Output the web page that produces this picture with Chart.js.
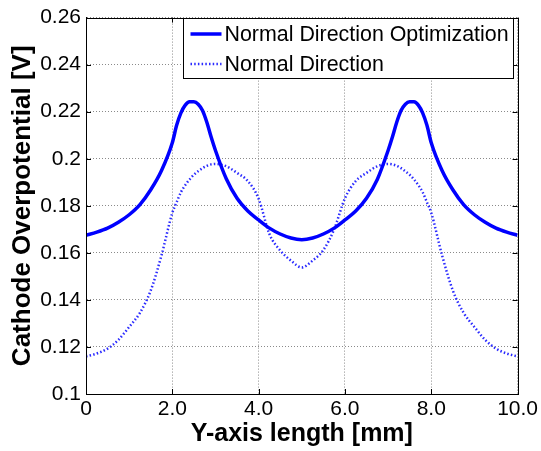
<!DOCTYPE html>
<html>
<head>
<meta charset="utf-8">
<script src="https://cdn.jsdelivr.net/npm/chart.js@4/dist/chart.umd.min.js"></script>
<style>
html,body{margin:0;padding:0;background:#fff;}
#wrap{width:541px;height:451px;position:relative;}
</style>
</head>
<body>
<div id="wrap"><canvas id="c" width="541" height="451"></canvas></div>
<script>
// ---- data ----
const yLengthMm = [0,0.25,0.5,0.75,1,1.25,1.5,1.75,2,2.1,2.2,2.3,2.4,2.5,2.6,2.7,2.8,2.9,3,3.25,3.5,3.75,4,4.25,4.5,4.75,5,
  5.25,5.5,5.75,6,6.25,6.5,6.75,7,7.1,7.2,7.3,7.4,7.5,7.6,7.7,7.8,7.9,8,8.25,8.5,8.75,9,9.25,9.5,9.75,10];
const optimizedOverpotential = [0.1675,0.1688,0.1705,0.1730,0.1762,0.1805,0.1868,0.1950,0.2068,0.2142,0.2195,0.2228,0.2242,0.2242,0.2232,0.2205,0.2155,0.2092,0.2035,0.1915,0.1832,0.1778,0.1740,0.1705,0.1680,0.1663,0.1656,
  0.1663,0.1680,0.1705,0.1740,0.1778,0.1832,0.1912,0.2035,0.2092,0.2155,0.2205,0.2232,0.2242,0.2242,0.2228,0.2195,0.2142,0.2068,0.1950,0.1868,0.1805,0.1762,0.1730,0.1705,0.1688,0.1675];
const normalOverpotential = [0.1160,0.1172,0.1193,0.1230,0.1285,0.1345,0.1440,0.1590,0.1770,0.1815,0.1858,0.1888,0.1912,0.1932,0.1947,0.1960,0.1970,0.1976,0.1978,0.1968,0.1940,0.1905,0.1830,0.1680,0.1610,0.1567,0.1538,
  0.1567,0.1612,0.1700,0.1832,0.1905,0.1940,0.1968,0.1978,0.1976,0.1970,0.1960,0.1947,0.1932,0.1912,0.1888,0.1858,0.1815,0.1770,0.1590,0.1440,0.1345,0.1285,0.1230,0.1193,0.1172,0.1160];
const seriesLabels = ["Normal Direction Optimization", "Normal Direction"];
const xTickValues = [0,2,4,6,8,10];
const xTickLabels = ["0","2.0","4.0","6.0","8.0","10.0"];
const yTickLabels = ["0.1","0.12","0.14","0.16","0.18","0.2","0.22","0.24","0.26"];
const xTitle = "Y-axis length [mm]";
const yTitle = "Cathode Overpotential [V]";

const FONT = "'Liberation Sans', Arial, sans-serif";
const toPts = ys => yLengthMm.map((x,i)=>({x:x, y:ys[i]}));

const boxPlugin = {
  id:'boxPlugin',
  afterDatasetsDraw(chart){
    const {ctx, chartArea:a, scales} = chart;
    ctx.save();
    // inward tick marks
    ctx.strokeStyle = '#000'; ctx.lineWidth = 1; ctx.setLineDash([]);
    const tl = 5;
    ctx.beginPath();
    scales.x.ticks.forEach(t=>{
      const px = Math.round(scales.x.getPixelForValue(t.value))+0.5;
      ctx.moveTo(px, a.bottom); ctx.lineTo(px, a.bottom-tl);
      ctx.moveTo(px, a.top); ctx.lineTo(px, a.top+tl);
    });
    scales.y.ticks.forEach(t=>{
      const py = Math.round(scales.y.getPixelForValue(t.value))+0.5;
      ctx.moveTo(a.left, py); ctx.lineTo(a.left+tl, py);
      ctx.moveTo(a.right, py); ctx.lineTo(a.right-tl, py);
    });
    ctx.stroke();
    ctx.strokeRect(Math.round(a.left)+0.5, Math.round(a.top)+0.5, Math.round(a.right-a.left), Math.round(a.bottom-a.top));
    // legend
    const lx = 183.5, ly = 18.5, lw = 330, lh = 60;
    ctx.fillStyle = '#fff';
    ctx.fillRect(lx, ly, lw, lh);
    ctx.strokeStyle = '#000';
    ctx.strokeRect(lx, ly, lw, lh);
    ctx.font = '21.4px ' + FONT;
    ctx.fillStyle = '#000';
    ctx.textBaseline = 'middle';
    ctx.textAlign = 'left';
    chart.data.datasets.forEach((ds,i)=>{
      const cy = ly + 15.5 + i*30;
      ctx.strokeStyle = ds.borderColor;
      ctx.lineWidth = ds.borderWidth;
      ctx.setLineDash(ds.borderDash || []);
      ctx.beginPath(); ctx.moveTo(lx+7, cy); ctx.lineTo(lx+38, cy); ctx.stroke();
      ctx.setLineDash([]);
      ctx.fillText(ds.label, lx+41, cy+1);
    });
    ctx.restore();
  }
};

new Chart(document.getElementById('c'), {
  type:'line',
  data:{
    datasets:[
      {label:seriesLabels[0], data:toPts(optimizedOverpotential), borderColor:'#0000ff', borderWidth:3.5,
       pointRadius:0, cubicInterpolationMode:'monotone', fill:false},
      {label:seriesLabels[1], data:toPts(normalOverpotential), borderColor:'#2a2aff', borderWidth:2.5, borderDash:[1.5,2.2],
       pointRadius:0, cubicInterpolationMode:'monotone', fill:false}
    ]
  },
  options:{
    responsive:false, animation:false, devicePixelRatio:1,
    layout:{padding:{left:0, right:23, top:15, bottom:0}},
    plugins:{legend:{display:false}, tooltip:{enabled:false}},
    scales:{
      x:{type:'linear', min:0, max:10,
        afterBuildTicks(s){ s.ticks = xTickValues.map(v=>({value:v})); },
        afterFit(s){ s.height = 451 - 394; },
        ticks:{color:'#000', font:{family:FONT, size:21}, padding:3, maxRotation:0,
          callback:(v)=>{const i = xTickValues.indexOf(v); return i>=0 ? xTickLabels[i] : '';}},
        grid:{color:'#8a8a8a', drawTicks:false, lineWidth:1},
        border:{display:true, color:'#000', dash:[1,2]},
        title:{display:true, text:xTitle, color:'#000', font:{family:FONT, size:25, weight:'bold'}, padding:{top:0, bottom:2}}
      },
      y:{type:'linear', min:0.1, max:0.26,
        afterBuildTicks(s){ s.ticks = yTickLabels.map(t=>({value:parseFloat(t)})); },
        afterFit(s){ s.width = 86; },
        ticks:{color:'#000', font:{family:FONT, size:21}, padding:5,
          callback:(v)=>{const i = yTickLabels.findIndex(t=>Math.abs(parseFloat(t)-v)<1e-9); return i>=0 ? yTickLabels[i] : '';}},
        grid:{color:'#8a8a8a', drawTicks:false, lineWidth:1},
        border:{display:true, color:'#000', dash:[1,2]},
        title:{display:true, text:yTitle, color:'#000', font:{family:FONT, size:26, weight:'bold'}, padding:{top:7, bottom:0}}
      }
    }
  },
  plugins:[boxPlugin]
});
</script>
</body>
</html>
